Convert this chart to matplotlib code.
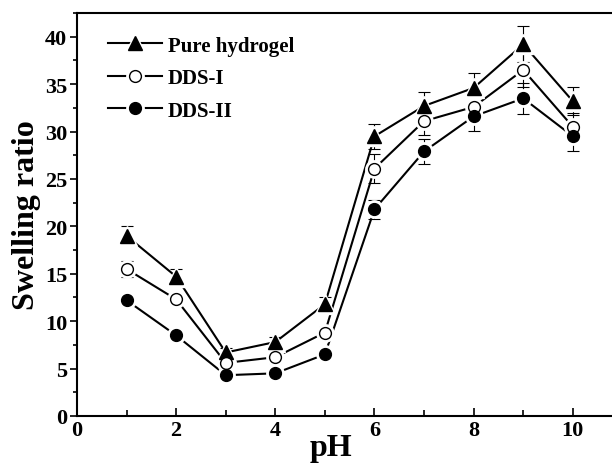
import numpy as np
import matplotlib
matplotlib.use("Agg")
import matplotlib.pyplot as plt
from matplotlib.ticker import MultipleLocator
from matplotlib.lines import Line2D

plt.rcParams["font.family"] = ["Liberation Serif", "DejaVu Serif"]
plt.rcParams["font.weight"] = "bold"

# data
ph = [1, 2, 3, 4, 5, 6, 7, 8, 9, 10]
pure = [19.0, 14.7, 6.7, 7.8, 11.8, 29.5, 32.7, 34.6, 39.2, 33.2]
pure_err = [1.0, 0.8, 0.5, 0.5, 0.8, 1.3, 1.5, 1.6, 1.9, 1.5]
dds1 = [15.5, 12.3, 5.6, 6.2, 8.8, 26.1, 31.1, 32.6, 36.5, 30.5]
dds1_err = [0.8, 0.5, 0.6, 0.6, 0.6, 1.5, 1.5, 1.2, 1.8, 1.5]
dds2 = [12.2, 8.5, 4.3, 4.5, 6.5, 21.8, 27.9, 31.6, 33.5, 29.5]
dds2_err = [0.5, 0.4, 0.4, 0.4, 0.4, 1.0, 1.3, 1.5, 1.6, 1.5]

fig = plt.figure(figsize=(6.12, 4.64), dpi=100)
ax = fig.add_axes([0.1258, 0.1013, 0.8742, 0.8685])

series = [
    ("Pure hydrogel", pure, pure_err, "^", "black", 10),
    ("DDS-I", dds1, dds1_err, "o", "white", 8.5),
    ("DDS-II", dds2, dds2_err, "o", "black", 8.5),
]

handles, labels = [], []
for label, y, err, mk, face, ms in series:
    ax.plot(ph, y, color="black", lw=1.5, zorder=1)
    ax.errorbar(ph, y, yerr=err, fmt="none", ecolor="black", elinewidth=0.8,
                capsize=4, capthick=0.8, zorder=2)
    # white halo so the line stops short of the marker
    ax.plot(ph, y, ls="none", marker=mk, ms=ms + 4, mfc="white", mec="white", zorder=3)
    ax.plot(ph, y, ls="none", marker=mk, ms=ms, mfc=face, mec="black", mew=1.0, zorder=4)
    h = (Line2D([], [], color="black", lw=1.5),
         Line2D([], [], ls="none", marker=mk, ms=ms + 4, mfc="white", mec="white"),
         Line2D([], [], ls="none", marker=mk, ms=ms, mfc=face, mec="black", mew=1.0))
    handles.append(h)
    labels.append(label)

ax.set_xlim(0, 10.79)
ax.set_ylim(0, 42.5)
ax.xaxis.set_major_locator(MultipleLocator(2))
ax.xaxis.set_minor_locator(MultipleLocator(1))
ax.yaxis.set_major_locator(MultipleLocator(5))
ax.yaxis.set_minor_locator(MultipleLocator(2.5))
ax.tick_params(axis="x", which="both", direction="in", labelsize=16, pad=3)
ax.tick_params(axis="x", which="major", length=6, width=1.2)
ax.tick_params(axis="x", which="minor", length=4, width=1.2)
ax.tick_params(axis="y", which="both", direction="out", labelsize=16, pad=2)
ax.tick_params(axis="y", which="major", length=5, width=1.2)
ax.tick_params(axis="y", which="minor", length=3, width=1.2)
for lab in ax.get_xticklabels() + ax.get_yticklabels():
    lab.set_fontweight("bold")

for s in ["left", "bottom", "top"]:
    ax.spines[s].set_linewidth(1.5)
ax.spines["right"].set_visible(False)

ax.set_xlabel("pH", fontsize=23, fontweight="bold")
ax.xaxis.set_label_coords(0.475, -0.042)
ax.set_ylabel("Swelling ratio", fontsize=23, fontweight="bold", labelpad=3)

ax.legend(handles, labels, loc="upper left", frameon=False, handlelength=2.6,
          handletextpad=0.3, labelspacing=0.6, borderaxespad=0.3,
          bbox_to_anchor=(0.03, 0.98), prop={"weight": "bold", "size": 15})

fig.savefig("out.png", dpi=100)
